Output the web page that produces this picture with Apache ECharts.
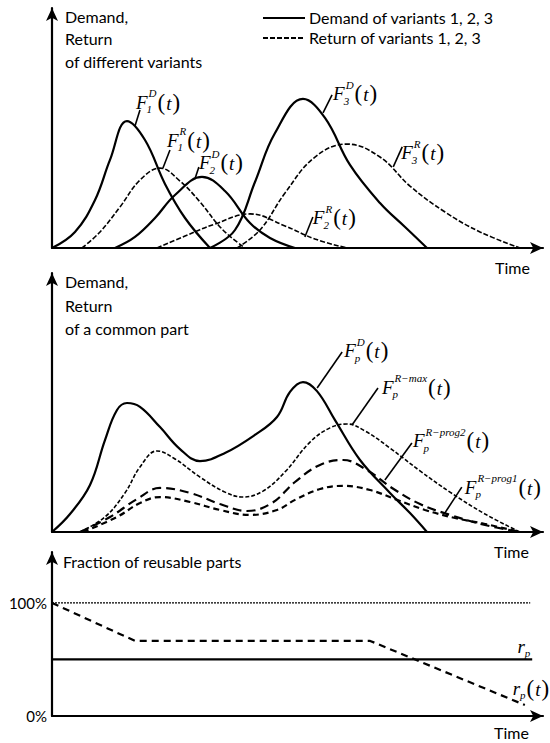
<!DOCTYPE html>
<html><head><meta charset="utf-8">
<script src="https://cdn.jsdelivr.net/npm/echarts@6/dist/echarts.min.js"></script>
<style>html,body{margin:0;padding:0;background:#fff}#c{width:550px;height:743px}</style>
</head><body><div id="c"></div>
<script>
// ---------- Panel 1: demand / return of variants (time 0..100, value 0..100) ----------
const demand1 = [[0,0],[4.68,6.7],[8.76,20.0],[11.81,36.7],[15.27,52.9],[18.94,45.0],[23.01,26.7],[27.09,12.5],[32.18,0]];
const return1 = [[6.11,0],[9.78,6.7],[13.85,17.1],[17.92,28.3],[22.0,33.3],[26.07,27.9],[30.14,19.2],[34.62,7.9],[39.31,0]];
const demand2 = [[12.83,0],[16.9,4.6],[20.98,12.5],[25.05,22.1],[30.55,29.6],[35.23,23.75],[40.33,10.4],[44.4,4.2],[49.49,0]];
const return2 = [[21.38,0],[27.09,5.0],[33.2,10.0],[40.33,14.2],[47.45,9.2],[53.56,3.75],[60.08,0]];
const demand3 = [[32.18,0],[37.27,7.5],[41.34,27.5],[45.42,47.9],[51.12,62.1],[55.6,54.2],[60.69,34.6],[66.8,18.75],[71.9,8.75],[76.37,0]];
const return3 = [[37.68,0],[42.36,7.5],[47.45,22.9],[53.56,37.9],[60.08,43.3],[66.8,37.9],[72.91,25.8],[80.04,15.0],[87.17,6.7],[95.32,0]];
const anchors1 = [[16.9,50.8],[22.6,33.3],[29.1,28.8],[51.5,4.6],[55.2,56.3],[69.5,33.8]];
const labels1 = [{sub:'1',sup:'D'},{sub:'1',sup:'R'},{sub:'2',sup:'D'},{sub:'2',sup:'R'},{sub:'3',sup:'D'},{sub:'3',sup:'R'}];

// ---------- Panel 2: common part ----------
const demandP = [[0,0],[3.67,6.95],[7.74,18.15],[10.79,35.5],[13.24,47.1],[15.27,49.8],[17.92,48.3],[22.0,40.5],[26.07,32.0],[30.14,27.4],[35.23,30.5],[41.34,37.5],[45.82,44.4],[48.47,54.1],[51.12,57.9],[53.97,54.4],[57.64,43.2],[62.73,27.8],[68.84,15.1],[72.91,7.3],[76.37,0]];
const returnMax = [[5.7,0],[10.79,5.8],[14.87,15.1],[17.92,25.1],[21.38,31.3],[25.05,28.2],[30.14,21.2],[35.23,15.4],[38.9,13.5],[42.97,15.8],[47.45,23.2],[52.55,34.7],[56.62,40.2],[60.08,41.7],[63.75,39.0],[68.84,32.4],[74.95,23.6],[81.06,15.4],[88.19,6.95],[95.32,0]];
const returnProg2 = [[5.7,0],[11.81,5.8],[17.31,12.7],[22.0,17.0],[28.11,15.1],[34.22,10.8],[39.71,8.1],[44.81,11.2],[49.49,19.3],[54.58,25.9],[59.27,27.8],[64.15,23.9],[69.25,17.0],[74.95,10.8],[81.06,6.6],[88.19,2.7],[95.32,0]];
const returnProg1 = [[6.31,0],[13.24,5.8],[17.92,11.2],[22.0,13.5],[28.11,11.6],[34.22,8.5],[40.33,6.6],[45.82,8.5],[49.49,12.4],[54.58,16.6],[59.27,17.8],[64.77,16.2],[70.26,12.4],[75.97,8.5],[82.08,5.4],[88.19,3.1],[95.32,0]];
const anchors2 = [[54.0,55.6],[61.1,41.3],[67.8,20.1],[80.0,7.3]];
const labels2 = [{sub:'p',sup:'D'},{sub:'p',sup:'R\u2212max'},{sub:'p',sup:'R\u2212prog2'},{sub:'p',sup:'R\u2212prog1'}];

// ---------- Panel 3: fraction of reusable parts (%) ----------
const fullLine = [[0,100],[97.4,100]];
const rpConst = [[0,50],[97.8,50]];
const rpTime = [[0,100],[16.9,66.4],[64.8,66.4],[96.3,9.7]];
const tickLabels3 = [0,100];
const anchors3 = [[95,50],[93,15.6]];
const labels3 = [{main:'r',sub:'p',arg:false},{main:'r',sub:'p',arg:true}];

const legendNames = ['Demand of variants 1, 2, 3','Return of variants 1, 2, 3'];

// ---------- rendering ----------
const SANS = 'Lato';
const SERIF = '"Liberation Serif"';
const measureCtx = document.createElement('canvas').getContext('2d');
function textW(t, font){ measureCtx.font = font; return measureCtx.measureText(t).width; }

const labelOffsets1 = [[[5,-16],[1,-24]],[[7,-18],[4,-28]],[[4,-12],[4,-16]],[[8,-20],[8,-19]],[[9,-18],[10,-19]],[[9,-20],[8,-14]]];
const labelOffsets2 = [[[25,-36],[27,-37]],[[26,-37],[30,-38]],[[27,-37],[28,-39]],[[17,-26],[20,-26]]];
const labelOffsets3 = [[null,[-1,-13]],[null,[4,-10]]];

function mathGroup(x, y, main, sub, sup, arg){
  const fMain = 'italic 19px ' + SERIF;
  const fSmall = 'italic 11px ' + SERIF;
  const fPar = '23px ' + SERIF;
  const ch = [];
  ch.push({type:'text', style:{text:main, x:x, y:y, font:fMain, fill:'#000', verticalAlign:'middle', align:'left'}});
  const mw = textW(main, fMain);
  let end = x + mw;
  if (sub){
    const sx = x + mw - (main === 'F' ? 1 : 0);
    ch.push({type:'text', style:{text:sub, x:sx, y:y+7, font:fSmall, fill:'#000', verticalAlign:'middle', align:'left'}});
    end = Math.max(end, sx+textW(sub,fSmall));
  }
  if (sup){
    const ux = x + mw + 1;
    ch.push({type:'text', style:{text:sup, x:ux, y:y-9, font:fSmall, fill:'#000', verticalAlign:'middle', align:'left'}});
    end = Math.max(end, ux+textW(sup,fSmall));
  }
  if (arg){
    const px = end + 1;
    ch.push({type:'text', style:{text:'(', x:px, y:y, font:fPar, fill:'#000', verticalAlign:'middle', align:'left'}});
    const pw = textW('(', fPar);
    ch.push({type:'text', style:{text:'t', x:px+pw+1, y:y+1, font:fMain, fill:'#000', verticalAlign:'middle', align:'left'}});
    const tw = textW('t', fMain);
    ch.push({type:'text', style:{text:')', x:px+pw+tw+2, y:y, font:fPar, fill:'#000', verticalAlign:'middle', align:'left'}});
  }
  return ch;
}

function labelRenderer(labels, offsets){
  return function(params, api){
    const i = params.dataIndex;
    const p = api.coord([api.value(0), api.value(1)]);
    const lab = labels[i];
    const off = offsets[i];
    const children = [];
    if (off[0]){
      children.push({type:'line', shape:{x1:p[0], y1:p[1], x2:p[0]+off[0][0], y2:p[1]+off[0][1]}, style:{stroke:'#000', lineWidth:1.6}});
    }
    const main = lab.main || 'F';
    const arg = lab.arg === undefined ? true : lab.arg;
    mathGroup(p[0]+off[1][0], p[1]+off[1][1], main, lab.sub, lab.sup, arg).forEach(c => children.push(c));
    return {type:'group', children: children};
  };
}

function axisX(gi){
  return {gridIndex:gi, type:'value', min:0, max:100, axisLine:{show:true, symbol:['none','arrow'], symbolSize:[9,13], lineStyle:{color:'#000', width:2.2}},
    axisTick:{show:false}, axisLabel:{show:false}, splitLine:{show:false}};
}
function axisY(gi, max, extra){
  return Object.assign({gridIndex:gi, type:'value', min:0, max:max, axisLine:{show:true, onZero:false, symbol:['none','arrow'], symbolSize:[9,13], lineStyle:{color:'#000', width:2.2}},
    axisTick:{show:false}, axisLabel:{show:false}, splitLine:{show:false}}, extra||{});
}
function line(name, data, gi, lineStyle, smooth){
  return {type:'line', name:name, data:data, xAxisIndex:gi, yAxisIndex:gi, symbol:'none', showSymbol:false,
    smooth: smooth === undefined ? 0.4 : smooth,
    lineStyle:Object.assign({color:'#000'}, lineStyle), itemStyle:{color:'#000'}, silent:true, z:3};
}
const solid = {width:2.2, type:'solid'};
const dashThin = {width:1.6, type:[5,2]};

const chart = echarts.init(document.getElementById('c'), null, {renderer:'svg'});
chart.setOption({
  animation:false,
  backgroundColor:'#fff',
  grid:[
    {left:52, right:7, top:8, height:240},
    {left:52, right:7, top:273, height:259},
    {left:52, right:7, top:552, height:164}
  ],
  xAxis:[axisX(0), axisX(1), axisX(2)],
  yAxis:[axisY(0,100), axisY(1,100), axisY(2,145,{
    axisLabel:{show:true, margin:5, color:'#000', fontFamily:SANS, fontSize:15,
      formatter: v => tickLabels3.indexOf(v) >= 0 ? v + '%' : ''},
    interval:100
  })],
  graphic:[
    {type:'text', left:65, top:5, style:{text:'Demand,\nReturn\nof different variants', font:'16px '+SANS, fill:'#000', lineHeight:22.5}},
    {type:'text', left:495, top:259, style:{text:'Time', font:'16px '+SANS, fill:'#000'}},
    {type:'text', left:65, top:270, style:{text:'Demand,\nReturn\nof a common part', font:'16px '+SANS, fill:'#000', lineHeight:23.5}},
    {type:'text', left:494, top:543, style:{text:'Time', font:'16px '+SANS, fill:'#000'}},
    {type:'text', left:63, top:553, style:{text:'Fraction of reusable parts', font:'16px '+SANS, fill:'#000'}},
    {type:'text', left:494, top:724, style:{text:'Time', font:'16px '+SANS, fill:'#000'}},
    // legend
    {type:'line', shape:{x1:263, y1:18, x2:305, y2:18}, style:{stroke:'#000', lineWidth:1.8}},
    {type:'line', shape:{x1:263, y1:38, x2:305, y2:38}, style:{stroke:'#000', lineWidth:1.8, lineDash:[5,2]}},
    {type:'text', left:309, top:9, style:{text:legendNames[0], font:'16px '+SANS, fill:'#000'}},
    {type:'text', left:309, top:29, style:{text:legendNames[1], font:'16px '+SANS, fill:'#000'}}
  ],
  series:[
    line(legendNames[0], demand1, 0, solid),
    line(legendNames[1], return1, 0, dashThin),
    line(legendNames[0], demand2, 0, solid),
    line(legendNames[1], return2, 0, dashThin),
    line(legendNames[0], demand3, 0, solid),
    line(legendNames[1], return3, 0, dashThin),
    line('FpD', demandP, 1, solid),
    line('FpRmax', returnMax, 1, {width:1.6, type:[4,2]}),
    line('FpRprog2', returnProg2, 1, {width:2.2, type:[9,5]}),
    line('FpRprog1', returnProg1, 1, {width:2.2, type:[6,4]}),
    line('full', fullLine, 2, {width:1.4, type:[2,1]}, false),
    line('rp', rpConst, 2, solid, false),
    line('rpt', rpTime, 2, {width:2.2, type:[7,5]}, false),
    {type:'custom', xAxisIndex:0, yAxisIndex:0, data:anchors1, renderItem:labelRenderer(labels1, labelOffsets1), silent:true, z:5},
    {type:'custom', xAxisIndex:1, yAxisIndex:1, data:anchors2, renderItem:labelRenderer(labels2, labelOffsets2), silent:true, z:5},
    {type:'custom', xAxisIndex:2, yAxisIndex:2, data:anchors3, renderItem:labelRenderer(labels3, labelOffsets3), silent:true, z:5}
  ]
});
</script></body></html>
